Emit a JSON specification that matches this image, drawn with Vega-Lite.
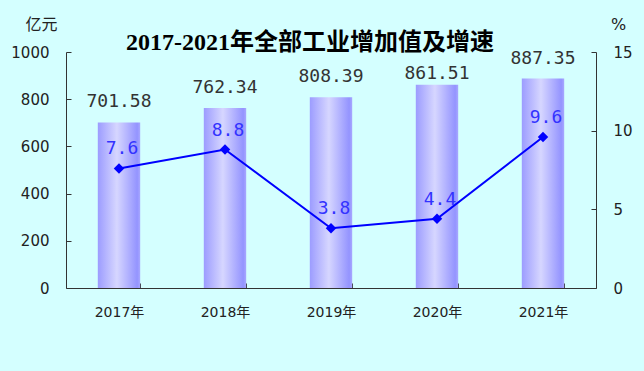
{
  "$schema": "https://vega.github.io/schema/vega-lite/v6.json",
  "width": 530,
  "height": 236,
  "autosize": {"type": "none"},
  "padding": {"left": 66, "top": 52, "right": 48, "bottom": 83},
  "background": "#d4ffff",
  "config": {
    "view": {"stroke": null},
    "font": "DejaVu Sans, Noto Sans CJK SC",
    "axis": {
      "grid": false,
      "domainColor": "#333333",
      "tickColor": "#333333",
      "domainWidth": 1,
      "tickWidth": 1,
      "tickSize": -5,
      "labelColor": "#222222",
      "labelFont": "DejaVu Sans, Noto Sans CJK SC",
      "labelFontSize": 15,
      "titleFont": "DejaVu Sans, Noto Sans CJK SC",
      "titleFontSize": 16,
      "titleFontWeight": "normal",
      "titleColor": "#222222"
    }
  },
  "title": {
    "text": "2017-2021年全部工业增加值及增速",
    "font": "Liberation Serif, Noto Sans CJK SC",
    "fontSize": 24,
    "fontWeight": "bold",
    "color": "#000000",
    "anchor": "middle",
    "dx": -21,
    "dy": 43
  },
  "data": {
    "values": [
      {"year": "2017年", "value": 701.58, "growth": 7.6, "vlabel": "701.58", "glabel": "7.6"},
      {"year": "2018年", "value": 762.34, "growth": 8.8, "vlabel": "762.34", "glabel": "8.8"},
      {"year": "2019年", "value": 808.39, "growth": 3.8, "vlabel": "808.39", "glabel": "3.8"},
      {"year": "2020年", "value": 861.51, "growth": 4.4, "vlabel": "861.51", "glabel": "4.4"},
      {"year": "2021年", "value": 887.35, "growth": 9.6, "vlabel": "887.35", "glabel": "9.6"}
    ]
  },
  "encoding": {
    "x": {
      "field": "year",
      "type": "nominal",
      "sort": null,
      "scale": {"paddingInner": 0.6, "paddingOuter": 0.3},
      "axis": {
        "title": null,
        "labelAngle": 0,
        "tickBand": "extent",
        "labelPadding": 22,
        "labelFontSize": 14
      }
    }
  },
  "layer": [
    {
      "encoding": {
        "y": {
          "field": "value",
          "type": "quantitative",
          "scale": {"domain": [0, 1000], "nice": false},
          "axis": {
            "values": [0, 200, 400, 600, 800, 1000],
            "format": "d",
            "title": "亿元",
            "titleAngle": 0,
            "titleX": -25,
            "titleY": -28,
            "titleAlign": "center",
            "titleBaseline": "middle",
            "labelPadding": 22
          }
        }
      },
      "layer": [
        {
          "mark": {
            "type": "bar",
            "fill": {
              "gradient": "linear",
              "x1": 0, "x2": 1, "y1": 0, "y2": 0,
              "stops": [
                {"offset": 0, "color": "#9c9cff"},
                {"offset": 0.45, "color": "#d6d6ff"},
                {"offset": 0.93, "color": "#9494ff"},
                {"offset": 1, "color": "#a8a8ff"}
              ]
            }
          }
        },
        {
          "transform": [{"filter": "datum.year !== '2020年'"}],
          "mark": {
            "type": "text",
            "font": "DejaVu Sans Mono",
            "fontSize": 18,
            "color": "#333333",
            "baseline": "bottom",
            "dy": -11
          },
          "encoding": {"text": {"field": "vlabel"}}
        },
        {
          "transform": [{"filter": "datum.year === '2020年'"}],
          "mark": {
            "type": "text",
            "font": "DejaVu Sans Mono",
            "fontSize": 18,
            "color": "#333333",
            "baseline": "bottom",
            "dy": -2
          },
          "encoding": {"text": {"field": "vlabel"}}
        }
      ]
    },
    {
      "encoding": {
        "y": {
          "field": "growth",
          "type": "quantitative",
          "scale": {"domain": [0, 15], "nice": false},
          "axis": {
            "orient": "right",
            "values": [0, 5, 10, 15],
            "title": "%",
            "titleAngle": 0,
            "titleX": 22,
            "titleY": -28,
            "titleAlign": "center",
            "titleBaseline": "middle",
            "labelPadding": 22
          }
        }
      },
      "layer": [
        {
          "mark": {"type": "line", "color": "#0000ff", "strokeWidth": 2},
          "encoding": {}
        },
        {
          "mark": {"type": "point", "shape": "diamond", "filled": true, "color": "#0000ff", "size": 110, "opacity": 1}
        },
        {
          "mark": {
            "type": "text",
            "font": "DejaVu Sans Mono",
            "fontSize": 18,
            "color": "#3333ff",
            "baseline": "middle",
            "dy": -19,
            "dx": 3
          },
          "encoding": {"text": {"field": "glabel"}}
        }
      ]
    }
  ],
  "resolve": {"scale": {"y": "independent"}, "axis": {"y": "independent"}}
}
